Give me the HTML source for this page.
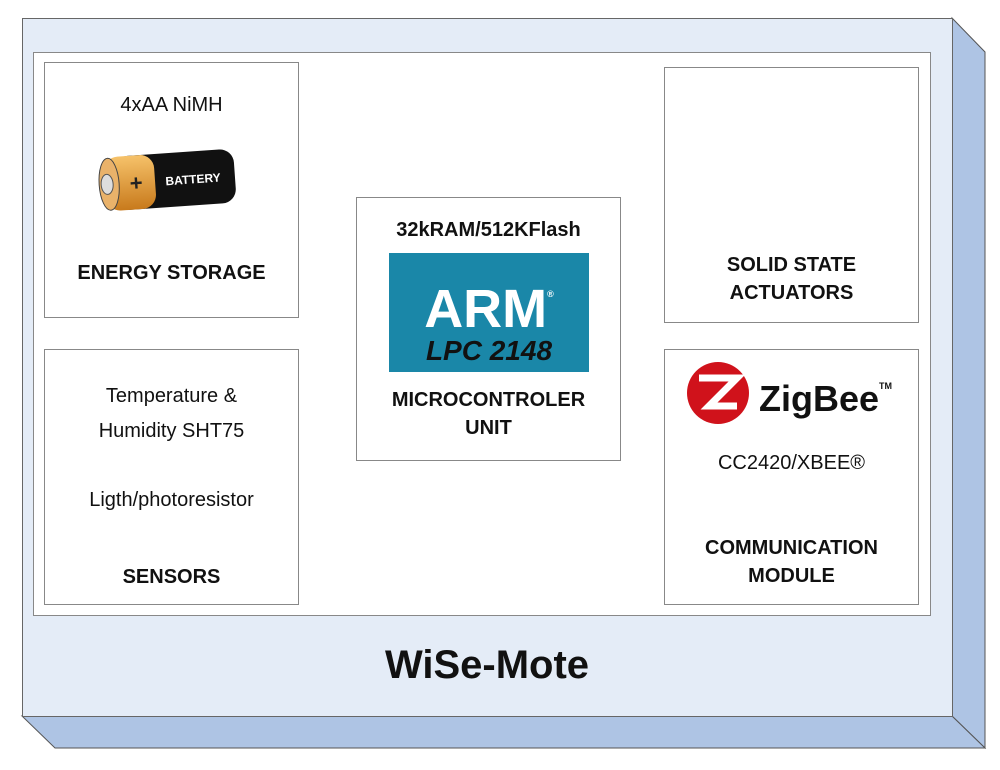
<!DOCTYPE html>
<html><head><meta charset="utf-8"><style>
body{margin:0;width:1000px;height:770px;background:#fff;position:relative;overflow:hidden;font-family:"Liberation Sans",sans-serif;color:#111}
.a{position:absolute}
.box{position:absolute;background:#fff;border:1px solid #888;box-sizing:border-box}
.t{position:absolute;left:0;right:0;text-align:center;white-space:nowrap}
.b{font-weight:bold;font-size:20px;line-height:28px}
.n{font-size:20px;line-height:35px}
</style></head><body>
<svg class="a" style="left:0;top:0" width="1000" height="770">
<polygon points="952,18 985,52 985,748 952,716" fill="#aec4e4" stroke="#555" stroke-width="1"/>
<polygon points="22,716 952,716 985,748 55,748" fill="#aec4e4" stroke="#555" stroke-width="1"/>
<rect x="22.5" y="18.5" width="930" height="698" fill="#e4ecf7" stroke="#666"/>
<rect x="33.5" y="52.5" width="897" height="563" fill="#fff" stroke="#888"/>
</svg>
<div class="box" style="left:44px;top:62px;width:255px;height:256px">
 <div class="t n" style="top:25px">4xAA NiMH</div>
 <svg class="a" style="left:50px;top:84px" width="150" height="66">
  <defs><linearGradient id="g" x1="0" y1="0" x2="0" y2="1"><stop offset="0" stop-color="#f6c26a"/><stop offset="1" stop-color="#c87a1c"/></linearGradient></defs>
  <g transform="rotate(-4 75 33)">
  <rect x="20" y="6" width="120" height="54" rx="14" fill="#111"/>
  <rect x="10" y="6" width="50" height="54" rx="14" fill="url(#g)"/>
  <ellipse cx="14" cy="33" rx="10" ry="26" fill="#e9b26a" stroke="#444"/>
  <ellipse cx="12" cy="33" rx="6" ry="10" fill="#ddd" stroke="#555"/>
  <text x="41" y="41" font-size="22" font-weight="bold" text-anchor="middle" fill="#222" font-family="Liberation Sans">+</text>
  <text x="98" y="38" font-size="12" font-weight="bold" text-anchor="middle" fill="#fff" font-family="Liberation Sans">BATTERY</text>
  </g>
 </svg>
 <div class="t b" style="top:196px">ENERGY STORAGE</div>
</div>
<div class="box" style="left:44px;top:349px;width:255px;height:256px">
 <div class="t n" style="top:29px">Temperature &amp;<br>Humidity SHT75</div>
 <div class="t n" style="top:133px">Ligth/photoresistor</div>
 <div class="t b" style="top:213px">SENSORS</div>
</div>
<div class="box" style="left:356px;top:197px;width:265px;height:264px">
 <div class="t b" style="top:18px">32kRAM/512KFlash</div>
 <div class="a" style="left:32px;top:55px;width:200px;height:119px;background:#1a87a8">
  <div class="t" style="top:14px;color:#fff;font-weight:bold;font-size:54px;line-height:54px">ARM<sup style="font-size:9px;vertical-align:30px">®</sup></div>
  <div class="t" style="top:81px;color:#111;font-weight:bold;font-style:italic;font-size:28px;line-height:34px">LPC 2148</div>
 </div>
 <div class="t b" style="top:188px">MICROCONTROLER<br>UNIT</div>
</div>
<div class="box" style="left:664px;top:67px;width:255px;height:256px">
 <div class="t b" style="top:183px">SOLID STATE<br>ACTUATORS</div>
</div>
<div class="box" style="left:664px;top:349px;width:255px;height:256px">
 <svg class="a" style="left:20px;top:10px" width="70" height="70">
  <circle cx="33" cy="33" r="31" fill="#d0121b"/>
  <path d="M14 18 H52 L24 46 H52" fill="none" stroke="#fff" stroke-width="7" stroke-linejoin="miter"/>
 </svg>
 <div class="a" style="left:94px;top:16px;font-weight:bold;font-size:36px;line-height:40px">ZigBee<sup style="font-size:9px;vertical-align:22px">TM</sup></div>
 <div class="t n" style="top:96px">CC2420/XBEE®</div>
 <div class="t b" style="top:184px">COMMUNICATION<br>MODULE</div>
</div>
<div class="a" style="left:22px;width:930px;top:640px;text-align:center;font-weight:bold;font-size:40px;line-height:50px">WiSe-Mote</div>
</body></html>
